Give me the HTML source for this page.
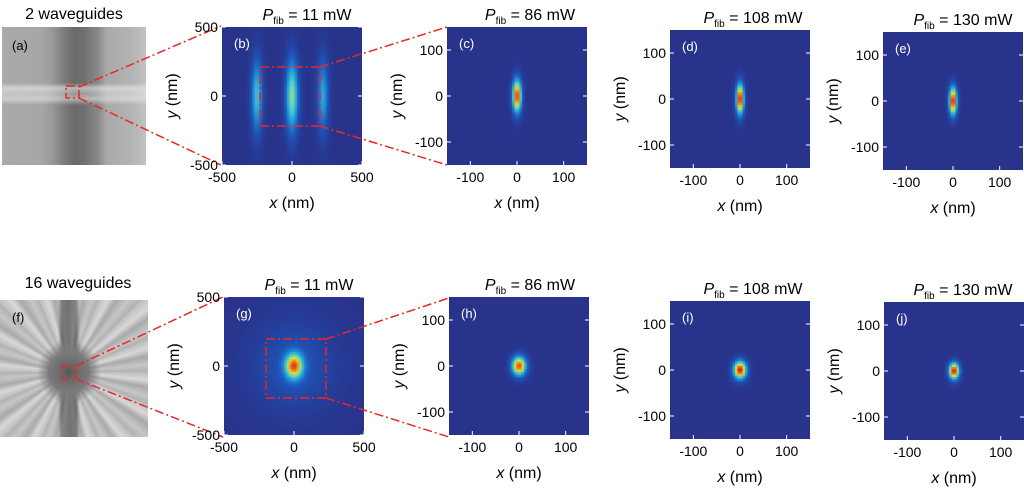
<!DOCTYPE html>
<html><head><meta charset="utf-8">
<style>
body{margin:0;background:#fff;width:1024px;height:490px;overflow:hidden;position:relative;font-family:"Liberation Sans",sans-serif;}
canvas{position:absolute;}
.img{position:absolute;}
#a-img{left:2px;top:27px;width:144px;height:138px;
background:
linear-gradient(180deg,rgba(255,255,255,0) 0,rgba(255,255,255,0) 56px,rgba(235,235,235,.6) 61px,rgba(255,255,255,.3) 67px,rgba(235,235,235,.55) 72px,rgba(255,255,255,0) 78px),
linear-gradient(90deg,#aaa 0,#a6a6a6 40px,#999 50px,#7d7d7d 62px,#6a6a6a 72px,#707070 82px,#888 96px,#a8a8a8 104px,#b4b4b4 130px,#c2c2c2 144px);}
#f-img{left:0;top:300px;width:148px;height:137px;
background:
radial-gradient(circle at 69px 72px,#555 0,#666 6px,#7a7a7a 20px,rgba(120,120,120,0) 32px),
linear-gradient(90deg,rgba(0,0,0,0) 58px,rgba(60,60,60,.55) 62px,rgba(60,60,60,.55) 76px,rgba(0,0,0,0) 80px),
repeating-conic-gradient(from 0deg at 69px 72px,#bdbdbd 0deg,#d8d8d8 6deg,#a9a9a9 11deg,#c6c6c6 17deg,#b0b0b0 22.5deg);}
svg{position:absolute;left:0;top:0;}
</style></head><body>
<div class="img" id="a-img"></div>
<div class="img" id="f-img"></div>
<div id="canvases"></div>
<svg id="ov" width="1024" height="490" font-family="Liberation Sans, sans-serif">
 <text x="74" y="19" font-size="16" text-anchor="middle">2 waveguides</text>
 <text x="78" y="288" font-size="16" text-anchor="middle">16 waveguides</text>
 <text x="12" y="50" font-size="13">(a)</text>
 <text x="12" y="322" font-size="13">(f)</text>
 <g stroke="#e8262a" stroke-width="1.5" fill="none" stroke-dasharray="9,3,2,3">
  <rect x="66" y="86" width="13" height="12"/>
  <line x1="79" y1="87" x2="221" y2="26"/><line x1="79" y1="98" x2="221" y2="165"/>
  <rect x="260" y="67" width="60" height="59"/>
  <line x1="320" y1="67" x2="447" y2="27"/><line x1="320" y1="126" x2="447" y2="165"/>
  <rect x="62" y="366" width="14" height="13"/>
  <line x1="76" y1="366" x2="223" y2="297"/><line x1="76" y1="379" x2="223" y2="437"/>
  <rect x="266" y="339" width="60" height="59"/>
  <line x1="326" y1="339" x2="449" y2="298"/><line x1="326" y1="398" x2="449" y2="437"/>
 </g>
</svg>
<script>
// Panel data (nm)
const panelIds=['b','c','d','e','g','h','i','j'];
const panelPower=[11,86,108,130,11,86,108,130];
const panelRange=[500,150,150,150,500,150,150,150];
const panelTicks=[[-500,0,500],[-100,0,100],[-100,0,100],[-100,0,100],[-500,0,500],[-100,0,100],[-100,0,100],[-100,0,100]];
// blobs per panel: centers x, sigma x, sigma y, amplitude
const blobCx=[[-250,0,220],[0],[0],[0],[0,0],[0],[0],[0]];
const blobSx=[[28,32,28],[7],[6],[6],[45,200],[11],[10],[8]];
const blobSy=[[190,190,190],[26],[24],[22],[65,220],[15],[14],[13]];
const blobAmp=[[0.48,0.6,0.4],[0.95],[1],[1],[0.78,0.16],[0.92],[1],[1]];
// layout
const boxX=[222,447,670,883,224,449,670,884];
const boxY=[27,27,30,32,297,297,301,302];
const titleCx=[307,530,753,963,309,530,753,963];
const W=140,H=138;
const stops=[[0,[40,52,140]],[0.18,[30,90,190]],[0.35,[30,160,220]],[0.5,[90,210,200]],[0.65,[220,230,40]],[0.8,[245,120,30]],[0.92,[220,30,25]],[1,[150,0,20]]];
function cmap(v){v=Math.max(0,Math.min(1,v));for(let i=1;i<stops.length;i++){if(v<=stops[i][0]){const [a,ca]=stops[i-1],[b,cb]=stops[i];const t=(v-a)/(b-a);return ca.map((c,k)=>Math.round(c+(cb[k]-c)*t));}}return stops[stops.length-1][1];}
const ov=document.getElementById('ov');const NS='http://www.w3.org/2000/svg';
function el(tag,attrs,txt){const e=document.createElementNS(NS,tag);for(const k in attrs)e.setAttribute(k,attrs[k]);if(txt!==undefined)e.textContent=txt;ov.appendChild(e);return e;}
panelIds.forEach((id,p)=>{
 const R=panelRange[p],x0=boxX[p],y0=boxY[p];
 const sx=v=>x0+(v+R)/(2*R)*W, sy=v=>y0+(R-v)/(2*R)*H;
 const cv=document.createElement('canvas');cv.width=W;cv.height=H;cv.style.left=x0+'px';cv.style.top=y0+'px';
 
 
 document.getElementById('canvases').appendChild(cv);
 const ctx=cv.getContext('2d');const cell=2.5;
 for(let py=0;py<H;py+=cell)for(let px=0;px<W;px+=cell){
  const nx=(px+cell/2)/W*2*R-R, ny=R-(py+cell/2)/H*2*R;let v=0;
  blobCx[p].forEach((cx,k)=>{v+=blobAmp[p][k]*Math.exp(-((nx-cx)**2)/(2*blobSx[p][k]**2)-(ny**2)/(2*blobSy[p][k]**2));});
  const c=cmap(v*0.95);ctx.fillStyle=`rgb(${c[0]},${c[1]},${c[2]})`;ctx.fillRect(px,py,cell+0.5,cell+0.5);}
 panelTicks[p].forEach(t=>{
  const X=sx(t),Y=sy(t);
  let e=el('line',{x1:X,y1:y0+H,x2:X,y2:y0+H-4,stroke:'#fff','stroke-width':1});
  
  e=el('line',{x1:x0,y1:Y,x2:x0+4,y2:Y,stroke:'#fff','stroke-width':1});
  
  e=el('line',{x1:x0+W,y1:Y,x2:x0+W-4,y2:Y,stroke:'#fff','stroke-width':1});
  
  e=el('text',{x:X,y:y0+H+17,'font-size':14,'text-anchor':'middle'},String(t));
  
  e=el('text',{x:x0-4,y:Y+5,'font-size':14,'text-anchor':'end'},String(t));
  
 });
 let e=el('text',{x:x0+W/2,y:y0+H+43,'font-size':16,'text-anchor':'middle'});
 e.innerHTML='<tspan font-style="italic">x</tspan> (nm)';
 
 const yx=x0-45;
 e=el('text',{x:0,y:0,'font-size':16,'text-anchor':'middle',transform:`translate(${yx},${y0+H/2}) rotate(-90)`});
 e.innerHTML='<tspan font-style="italic">y</tspan> (nm)';
 
 e=el('text',{x:x0+12,y:y0+21,'font-size':13,fill:'#fff'},'('+id+')');
 
 e=el('text',{x:titleCx[p],y:y0-7,'font-size':16,'text-anchor':'middle'});
 e.innerHTML='<tspan font-style="italic">P</tspan><tspan font-size="10" dy="4">fib</tspan><tspan dy="-4"> = '+panelPower[p]+' mW</tspan>';
 
});
</script>
</body></html>
